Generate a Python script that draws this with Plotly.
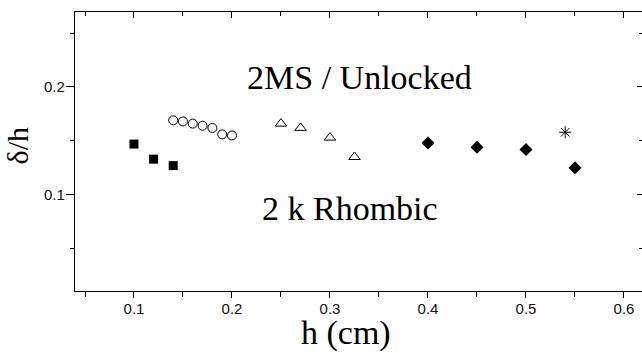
import plotly.graph_objects as go

# Data
sq_h = [0.10, 0.12, 0.14]
sq_d = [0.147, 0.133, 0.127]

circ_h = [0.14, 0.15, 0.16, 0.17, 0.18, 0.19, 0.20]
circ_d = [0.169, 0.168, 0.166, 0.164, 0.162, 0.156, 0.155]

tri_h = [0.25, 0.27, 0.30, 0.325]
tri_d = [0.166, 0.162, 0.153, 0.135]

dia_h = [0.40, 0.45, 0.50, 0.55]
dia_d = [0.148, 0.144, 0.142, 0.125]

star_h = [0.54]
star_d = [0.158]

x_range = [0.0398, 0.6184]
y_range = [0.0106, 0.2696]

label_top = "2MS / Unlocked"
label_bottom = "2 k Rhombic"
x_title = "h (cm)"
y_title = "δ/h"

serif = "Liberation Serif"
sans = "Liberation Sans"

fig = go.Figure()
fig.add_trace(go.Scatter(x=sq_h, y=sq_d, mode="markers",
                         marker=dict(symbol="square", size=9, color="black")))
fig.add_trace(go.Scatter(x=circ_h, y=circ_d, mode="markers",
                         marker=dict(symbol="circle-open", size=9, color="black",
                                     line=dict(width=1, color="black"))))
fig.add_trace(go.Scatter(x=tri_h, y=tri_d, mode="markers",
                         marker=dict(symbol="triangle-up-open", size=10, color="black",
                                     line=dict(width=1, color="black"))))
fig.add_trace(go.Scatter(x=dia_h, y=dia_d, mode="markers",
                         marker=dict(symbol="diamond", size=10, color="black")))
fig.add_trace(go.Scatter(x=star_h, y=star_d, mode="markers",
                         marker=dict(symbol="asterisk-open", size=10, color="black",
                                     line=dict(width=1, color="black"))))
# empty trace to anchor mirror axes
fig.add_trace(go.Scatter(x=[], y=[], xaxis="x2", yaxis="y2", showlegend=False))

axis_common = dict(showline=True, linecolor="black", linewidth=1.3,
                   showgrid=False, zeroline=False, tickcolor="black", tickwidth=1)

fig.update_layout(
    width=642, height=353,
    margin=dict(l=75, r=0, t=12, b=62),
    paper_bgcolor="white", plot_bgcolor="white",
    showlegend=False,
    xaxis=dict(range=x_range, tick0=0, dtick=0.1, ticks="outside", ticklen=6,
               ticklabelstandoff=-2,
               tickfont=dict(family=sans, size=15, color="#111"),
               minor=dict(dtick=0.05, tick0=0, ticks="outside", ticklen=5,
                          tickcolor="black", showgrid=False),
               **axis_common),
    yaxis=dict(range=y_range, tick0=0, dtick=0.1, ticks="outside", ticklen=8,
               ticklabelstandoff=-2,
               tickfont=dict(family=sans, size=15, color="#111"),
               minor=dict(dtick=0.05, tick0=0, ticks="outside", ticklen=4,
                          tickcolor="black", showgrid=False),
               **axis_common),
    xaxis2=dict(range=x_range, overlaying="x", side="top", tick0=0, dtick=0.1,
                ticks="inside", ticklen=6, showticklabels=False,
                minor=dict(dtick=0.05, tick0=0, ticks="inside", ticklen=4,
                           tickcolor="black", showgrid=False),
                **axis_common),
    yaxis2=dict(range=y_range, overlaying="y", side="right", tick0=0, dtick=0.1,
                ticks="inside", ticklen=5, showticklabels=False,
                minor=dict(dtick=0.05, tick0=0, ticks="inside", ticklen=3,
                           tickcolor="black", showgrid=False),
                **axis_common),
)

fig.add_annotation(x=0.3306, y=0.2085, xref="x", yref="y", text=label_top,
                   showarrow=False, xanchor="center", yanchor="middle",
                   font=dict(family=serif, size=34, color="black"))
fig.add_annotation(x=0.3204, y=0.0876, xref="x", yref="y", text=label_bottom,
                   showarrow=False, xanchor="center", yanchor="middle",
                   font=dict(family=serif, size=34, color="black"))
fig.add_annotation(x=0.478, y=-0.1495, xref="paper", yref="paper", text=x_title,
                   showarrow=False, xanchor="center", yanchor="middle",
                   font=dict(family=serif, size=34, color="black"))
fig.add_annotation(x=-0.1015, y=0.5197, xref="paper", yref="paper", text=y_title,
                   showarrow=False, xanchor="center", yanchor="middle", textangle=-90,
                   font=dict(family=serif, size=30, color="black"))

fig.write_html("out.html",
               config={"displayModeBar": False},
               post_script="document.body.style.margin='0';document.body.style.overflow='hidden';")
